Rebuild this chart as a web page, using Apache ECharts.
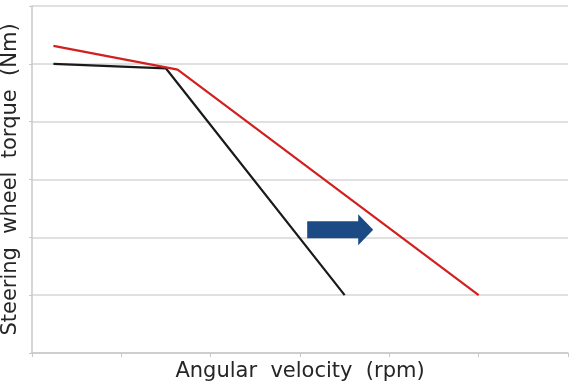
<!DOCTYPE html>
<html>
<head>
<meta charset="utf-8">
<script src="https://cdn.jsdelivr.net/npm/echarts@6/dist/echarts.min.js"></script>
<style>
  html, body { margin: 0; padding: 0; background: #fff; }
  #chart { width: 574px; height: 381px; }
</style>
</head>
<body>
<div id="chart"></div>
<script>
// values (axes have no numbers, 0..6 both ways)
const xTicks = [0, 1, 2, 3, 4, 5, 6];
const yTicks = [0, 1, 2, 3, 4, 5, 6];
const blackX = [0.24, 1.5, 3.5];
const blackY = [5.0, 4.92, 1.0];
const redX = [0.24, 1.5, 1.63, 5.0];
const redY = [5.31, 4.94, 4.9, 1.0];
const arrowAt = [3.45, 2.13];

const font = "'DejaVu Sans', sans-serif";
var myChart = echarts.init(document.getElementById('chart'));

myChart.setOption({
    animation: false,
    grid: { left: 32, right: 6, top: 6, bottom: 28, outerBoundsMode: 'none' },
    xAxis: {
        type: 'value',
        min: xTicks[0],
        max: xTicks[xTicks.length - 1],
        interval: 1,
        name: 'Angular  velocity  (rpm)',
        nameLocation: 'middle',
        nameGap: 8,
        nameTextStyle: { color: '#262626', fontSize: 21, fontFamily: font },
        axisLine: { lineStyle: { color: '#c8c8c8', width: 1.5 } },
        axisTick: { show: true, length: 4, lineStyle: { color: '#c8c8c8' } },
        axisLabel: { show: false },
        splitLine: { show: false }
    },
    yAxis: {
        type: 'value',
        min: yTicks[0],
        max: yTicks[yTicks.length - 1],
        interval: 1,
        name: 'Steering  wheel  torque  (Nm)',
        nameLocation: 'middle',
        nameRotate: 90,
        nameGap: 11,
        nameTextStyle: { color: '#262626', fontSize: 21, fontFamily: font },
        axisLine: { show: true, lineStyle: { color: '#c8c8c8', width: 1.5 } },
        axisTick: { show: true, length: 3, lineStyle: { color: '#c8c8c8' } },
        axisLabel: { show: false },
        splitLine: { lineStyle: { color: '#d6d6d6', width: 1.5 } }
    },
    series: [
        {
            name: 'before',
            type: 'line',
            data: blackX.map((x, i) => [x, blackY[i]]),
            symbol: 'none',
            lineStyle: { color: '#1a1a1a', width: 2.2 }
        },
        {
            name: 'after',
            type: 'line',
            data: redX.map((x, i) => [x, redY[i]]),
            symbol: 'none',
            lineStyle: { color: '#d21f1f', width: 2.2 },
            markPoint: {
                silent: true,
                data: [{
                    coord: arrowAt,
                    symbol: 'path://M0,7 L51,7 L51,0 L66,15.5 L51,31 L51,24 L0,24 Z',
                    symbolSize: [66, 31],
                    itemStyle: { color: '#1c4a85' },
                    label: { show: false }
                }]
            }
        }
    ]
});
</script>
</body>
</html>
